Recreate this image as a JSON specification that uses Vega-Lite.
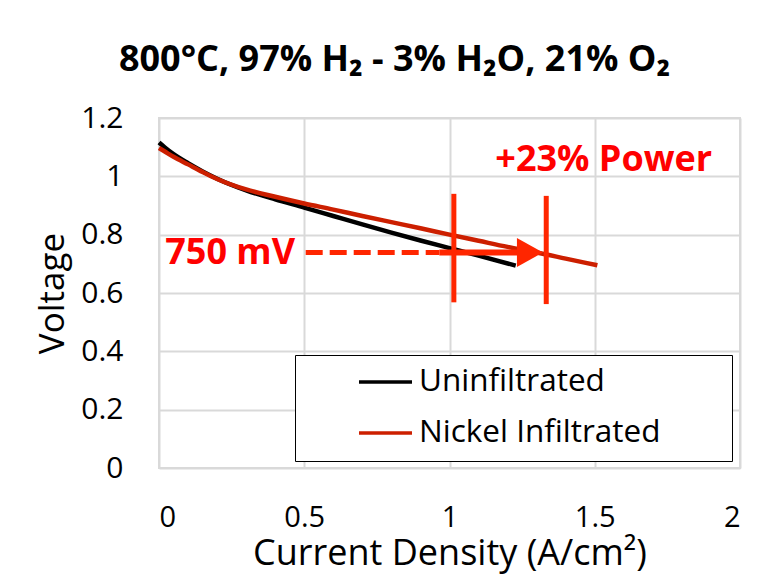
{
  "$schema": "https://vega.github.io/schema/vega-lite/v6.json",
  "width": 581,
  "height": 350,
  "autosize": {"type": "none"},
  "padding": {"left": 159, "top": 118, "right": 30, "bottom": 112},
  "background": "white",
  "title": {
    "text": "800°C, 97% H₂ - 3% H₂O, 21% O₂",
    "font": "Open Sans",
    "fontSize": 36,
    "fontWeight": "bold",
    "color": "black",
    "anchor": "middle",
    "frame": "group",
    "dx": -55,
    "baseline": "alphabetic",
    "offset": -4
  },
  "config": {
    "view": {"stroke": "#d9d9d9", "strokeWidth": 2},
    "axis": {
      "labelFont": "Open Sans",
      "titleFont": "Open Sans",
      "labelColor": "black",
      "titleColor": "black",
      "titleFontWeight": "normal",
      "domain": false,
      "ticks": false,
      "gridColor": "#d9d9d9",
      "gridWidth": 2
    }
  },
  "datasets": {
    "curves": [
      {"I": 0.0, "V": 1.116, "s": "Uninfiltrated"},
      {"I": 0.02, "V": 1.099, "s": "Uninfiltrated"},
      {"I": 0.05, "V": 1.076, "s": "Uninfiltrated"},
      {"I": 0.1, "V": 1.045, "s": "Uninfiltrated"},
      {"I": 0.15, "V": 1.017, "s": "Uninfiltrated"},
      {"I": 0.2, "V": 0.992, "s": "Uninfiltrated"},
      {"I": 0.3, "V": 0.952, "s": "Uninfiltrated"},
      {"I": 0.4, "V": 0.921, "s": "Uninfiltrated"},
      {"I": 0.5, "V": 0.893, "s": "Uninfiltrated"},
      {"I": 0.6, "V": 0.864, "s": "Uninfiltrated"},
      {"I": 0.7, "V": 0.835, "s": "Uninfiltrated"},
      {"I": 0.8, "V": 0.807, "s": "Uninfiltrated"},
      {"I": 0.9, "V": 0.780, "s": "Uninfiltrated"},
      {"I": 1.0, "V": 0.754, "s": "Uninfiltrated"},
      {"I": 1.1, "V": 0.728, "s": "Uninfiltrated"},
      {"I": 1.228, "V": 0.694, "s": "Uninfiltrated"},
      {"I": 0.0, "V": 1.097, "s": "Nickel Infiltrated"},
      {"I": 0.02, "V": 1.085, "s": "Nickel Infiltrated"},
      {"I": 0.05, "V": 1.067, "s": "Nickel Infiltrated"},
      {"I": 0.1, "V": 1.041, "s": "Nickel Infiltrated"},
      {"I": 0.15, "V": 1.015, "s": "Nickel Infiltrated"},
      {"I": 0.2, "V": 0.991, "s": "Nickel Infiltrated"},
      {"I": 0.3, "V": 0.955, "s": "Nickel Infiltrated"},
      {"I": 0.4, "V": 0.930, "s": "Nickel Infiltrated"},
      {"I": 0.5, "V": 0.907, "s": "Nickel Infiltrated"},
      {"I": 0.6, "V": 0.886, "s": "Nickel Infiltrated"},
      {"I": 0.7, "V": 0.864, "s": "Nickel Infiltrated"},
      {"I": 0.8, "V": 0.843, "s": "Nickel Infiltrated"},
      {"I": 0.9, "V": 0.822, "s": "Nickel Infiltrated"},
      {"I": 1.0, "V": 0.800, "s": "Nickel Infiltrated"},
      {"I": 1.1, "V": 0.779, "s": "Nickel Infiltrated"},
      {"I": 1.2, "V": 0.758, "s": "Nickel Infiltrated"},
      {"I": 1.3, "V": 0.739, "s": "Nickel Infiltrated"},
      {"I": 1.4, "V": 0.718, "s": "Nickel Infiltrated"},
      {"I": 1.509, "V": 0.695, "s": "Nickel Infiltrated"}
    ],
    "dashed": [{"I": 0.505, "I2": 0.965, "V": 0.739}],
    "solid": [{"I": 0.965, "I2": 1.245, "V": 0.739}],
    "head": [{"I": 1.277, "V": 0.739}],
    "vlines": [
      {"I": 1.015, "V": 0.568, "V2": 0.94},
      {"I": 1.333, "V": 0.562, "V2": 0.933}
    ],
    "labels": [
      {"I": 0.245, "V": 0.738, "t": "750 mV"},
      {"I": 1.531, "V": 1.057, "t": "+23% Power"}
    ]
  },
  "layer": [
    {
      "data": {"name": "curves"},
      "mark": {"type": "line", "strokeWidth": 4.5, "interpolate": "monotone"},
      "encoding": {
        "x": {
          "field": "I", "type": "quantitative",
          "scale": {"domain": [0, 2], "nice": false},
          "axis": {
            "values": [0, 0.5, 1, 1.5, 2], "format": "~g",
            "labelFontSize": 29, "labelPadding": 35,
            "title": "Current Density (A/cm²)", "titleFontSize": 36, "titlePadding": 4
          }
        },
        "y": {
          "field": "V", "type": "quantitative",
          "scale": {"domain": [0, 1.2], "nice": false},
          "axis": {
            "values": [0, 0.2, 0.4, 0.6, 0.8, 1, 1.2], "format": "~g",
            "labelFontSize": 30, "labelPadding": 36,
            "title": "Voltage", "titleFontSize": 35, "titlePadding": 10
          }
        },
        "color": {
          "field": "s", "type": "nominal",
          "scale": {"domain": ["Uninfiltrated", "Nickel Infiltrated"], "range": ["black", "#cc1f00"]},
          "legend": {
            "title": "\u00a0",
            "titleOrient": "right",
            "titlePadding": 59,
            "titleFontSize": 10,
            "orient": "none",
            "legendX": 136,
            "legendY": 237,
            "padding": 12,
            "fillColor": "white",
            "strokeColor": "black",
            "symbolType": "stroke",
            "symbolSize": 2809,
            "symbolStrokeWidth": 3.5,
            "symbolOffset": 50,
            "clipHeight": 30,
            "rowPadding": 19,
            "labelOffset": 5,
            "labelFont": "Open Sans",
            "labelFontSize": 31.5,
            "labelColor": "black",
            "labelLimit": 600
          }
        },
        "order": {"field": "I", "type": "quantitative"}
      }
    },
    {
      "data": {"name": "dashed"},
      "mark": {"type": "rule", "color": "#ff2600", "strokeWidth": 5, "strokeDash": [17, 7]},
      "encoding": {
        "x": {"field": "I", "type": "quantitative"},
        "x2": {"field": "I2"},
        "y": {"field": "V", "type": "quantitative"}
      }
    },
    {
      "data": {"name": "solid"},
      "mark": {"type": "rule", "color": "#ff2600", "strokeWidth": 6},
      "encoding": {
        "x": {"field": "I", "type": "quantitative"},
        "x2": {"field": "I2"},
        "y": {"field": "V", "type": "quantitative"}
      }
    },
    {
      "data": {"name": "head"},
      "mark": {"type": "point", "filled": true, "opacity": 1, "color": "#ff2600", "size": 841, "shape": "M-0.9,-1L0.9,0L-0.9,1Z"},
      "encoding": {
        "x": {"field": "I", "type": "quantitative"},
        "y": {"field": "V", "type": "quantitative"}
      }
    },
    {
      "data": {"name": "vlines"},
      "mark": {"type": "rule", "color": "#ff2600", "strokeWidth": 5},
      "encoding": {
        "x": {"field": "I", "type": "quantitative"},
        "y": {"field": "V", "type": "quantitative"},
        "y2": {"field": "V2"}
      }
    },
    {
      "data": {"name": "labels"},
      "mark": {"type": "text", "font": "Open Sans", "fontSize": 36, "fontWeight": "bold", "color": "#ff0000", "align": "center", "baseline": "middle"},
      "encoding": {
        "x": {"field": "I", "type": "quantitative"},
        "y": {"field": "V", "type": "quantitative"},
        "text": {"field": "t"}
      }
    }
  ]
}
